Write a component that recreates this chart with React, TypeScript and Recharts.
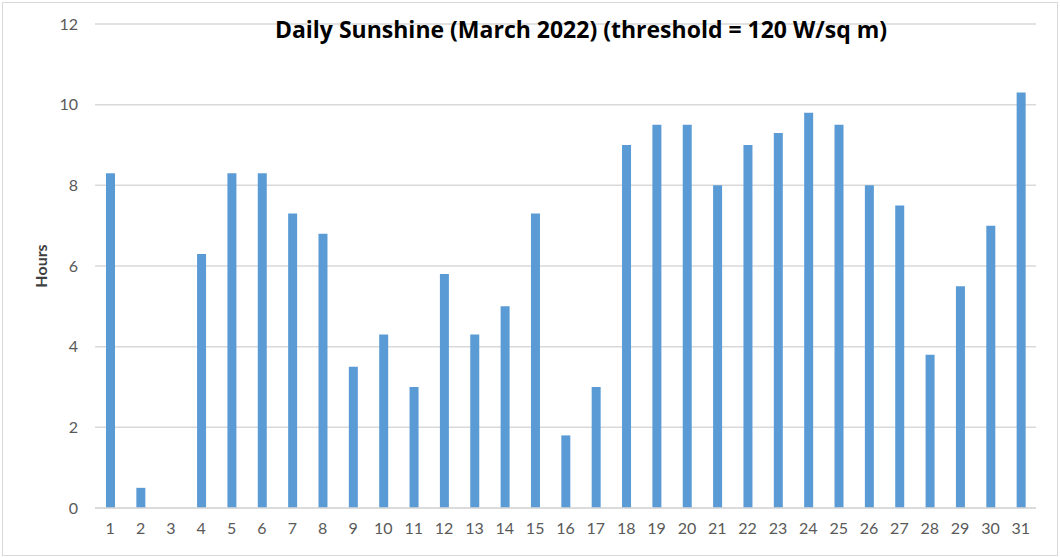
import { BarChart, Bar, XAxis, YAxis, CartesianGrid, Label } from 'recharts';

const days = [
  '1', '2', '3', '4', '5', '6', '7', '8', '9', '10', '11', '12', '13', '14', '15', '16',
  '17', '18', '19', '20', '21', '22', '23', '24', '25', '26', '27', '28', '29', '30', '31',
];

const hours = [
  8.3, 0.5, 0, 6.3, 8.3, 8.3, 7.3, 6.8, 3.5, 4.3, 3.0, 5.8, 4.3, 5.0, 7.3, 1.8,
  3.0, 9.0, 9.5, 9.5, 8.0, 9.0, 9.3, 9.8, 9.5, 8.0, 7.5, 3.8, 5.5, 7.0, 10.3,
];

const yTicks = [0, 2, 4, 6, 8, 10, 12];

const data = days.map((day, i) => ({ day, hours: hours[i] }));

const font = 'Lato, "Open Sans", sans-serif';

export default function App() {
  return (
    <div style={{ position: 'absolute', left: 0, top: 0, width: 1060, height: 558, background: '#fff', fontFamily: font }}>
      <div
        style={{
          position: 'absolute',
          left: 2,
          top: 2,
          width: 1054,
          height: 552,
          border: '1px solid #d9d9d9',
        }}
      />
      <BarChart
        width={1060}
        height={558}
        data={data}
        margin={{ top: 24, right: 24, left: 0, bottom: 0 }}
        barSize={9}
      >
        <CartesianGrid vertical={false} stroke="#d9d9d9" strokeWidth={1.5} />
        <XAxis
          dataKey="day"
          height={50}
          tickLine={false}
          tickSize={0}
          tickMargin={15}
          axisLine={{ stroke: '#d9d9d9', strokeWidth: 1.5 }}
          tick={{ fill: '#595959', fontSize: 16, fontFamily: font }}
          interval={0}
        />
        <YAxis
          width={95}
          domain={[0, 12]}
          ticks={yTicks}
          tickLine={false}
          tickSize={0}
          tickMargin={17}
          axisLine={false}
          tick={{ fill: '#595959', fontSize: 16, fontFamily: font }}
        >
          <Label
            value="Hours"
            angle={-90}
            position="center"
            dx={-6}
            style={{ fill: '#404040', fontSize: 16, fontWeight: 'bold', fontFamily: font }}
          />
        </YAxis>
        <Bar dataKey="hours" fill="#5b9bd5" isAnimationActive={false} />
      </BarChart>
      <div
        style={{
          position: 'absolute',
          left: 0,
          width: 1162,
          top: 15,
          textAlign: 'center',
          fontSize: 23,
          fontWeight: 'bold',
          fontFamily: '"Open Sans", sans-serif',
          color: '#000',
          lineHeight: '28px',
          whiteSpace: 'nowrap',
        }}
      >
        Daily Sunshine (March 2022) (threshold = 120 W/sq m)
      </div>
    </div>
  );
}
